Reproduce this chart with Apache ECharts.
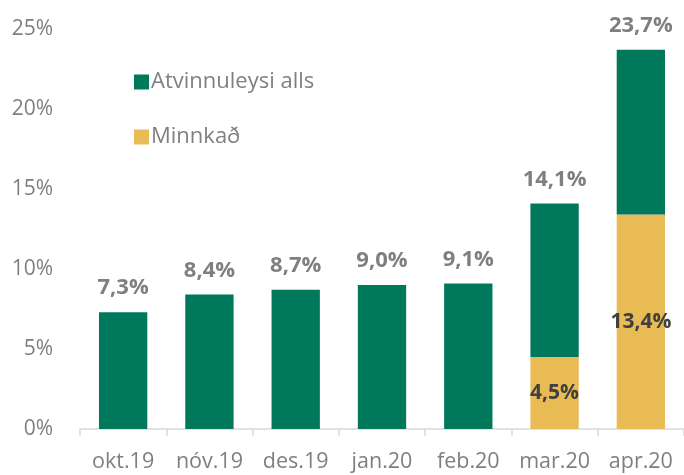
<!DOCTYPE html>
<html>
<head>
  <meta charset="utf-8">
  <title>Atvinnuleysi</title>
  <script src="https://cdn.jsdelivr.net/npm/echarts@6/dist/echarts.min.js"></script>
  <style>
    html, body { margin: 0; padding: 0; background: #fff; }
    #main { width: 684px; height: 475px; }
  </style>
</head>
<body>
<div id="main"></div>
<script>
// gögn
var months = ['okt.19', 'nóv.19', 'des.19', 'jan.20', 'feb.20', 'mar.20', 'apr.20'];
var totals = [7.3, 8.4, 8.7, 9.0, 9.1, 14.1, 23.7];
var minnkad = [0, 0, 0, 0, 0, 4.5, 13.4];
var yTicks = [0, 5, 10, 15, 20, 25];

// græni hlutinn = heild - minnkað
var rest = [];
for (var i = 0; i < totals.length; i++) {
  rest[i] = Math.round((totals[i] - minnkad[i]) * 10) / 10;
}

function pct(v) {
  return v.toFixed(1).replace('.', ',') + '%';
}

var font = '"Open Sans", "Noto Sans", sans-serif';
var myChart = echarts.init(document.getElementById('main'));

var option = {
  animation: false,
  textStyle: { fontFamily: font },
  grid: { left: 80, right: 0, top: 29, bottom: 46 },
  legend: {
    orient: 'vertical',
    left: 129,
    top: 66,
    itemWidth: 15,
    itemHeight: 15,
    itemGap: 33,
    icon: 'rect',
    data: ['Atvinnuleysi alls', 'Minnkað'],
    textStyle: { fontSize: 22, color: '#808080', fontFamily: font, padding: [0, 0, 0, -3] }
  },
  xAxis: {
    type: 'category',
    data: months,
    axisLine: { lineStyle: { color: '#d9d9d9', width: 1.5 } },
    axisTick: { show: true, interval: 0, length: 7, lineStyle: { color: '#d9d9d9', width: 1.5 } },
    axisLabel: { interval: 0, fontSize: 21.5, color: '#7f7f7f', margin: 22, fontFamily: font }
  },
  yAxis: {
    type: 'value',
    min: yTicks[0],
    max: yTicks[yTicks.length - 1],
    interval: 5,
    splitLine: { show: false },
    axisLine: { show: false },
    axisTick: { show: false },
    axisLabel: {
      fontSize: 21, color: '#7f7f7f', margin: 27, fontFamily: font,
      formatter: function (v) { return v + '%'; }
    }
  },
  series: [
    {
      name: 'Minnkað',
      type: 'bar',
      stack: 'a',
      barWidth: '56%',
      data: minnkad,
      itemStyle: { color: '#e9bb55' },
      label: {
        show: true,
        position: 'inside',
        fontSize: 21,
        fontWeight: 'bold',
        color: '#404040',
        fontFamily: font,
        formatter: function (p) { return p.value > 0 ? pct(p.value) : ''; }
      }
    },
    {
      name: 'Atvinnuleysi alls',
      type: 'bar',
      stack: 'a',
      data: rest,
      itemStyle: { color: '#00785c' },
      label: {
        show: true,
        position: 'top',
        distance: 13,
        fontSize: 22,
        fontWeight: 'bold',
        color: '#7f7f7f',
        fontFamily: font,
        formatter: function (p) { return pct(totals[p.dataIndex]); }
      }
    }
  ]
};

myChart.setOption(option);
</script>
</body>
</html>
